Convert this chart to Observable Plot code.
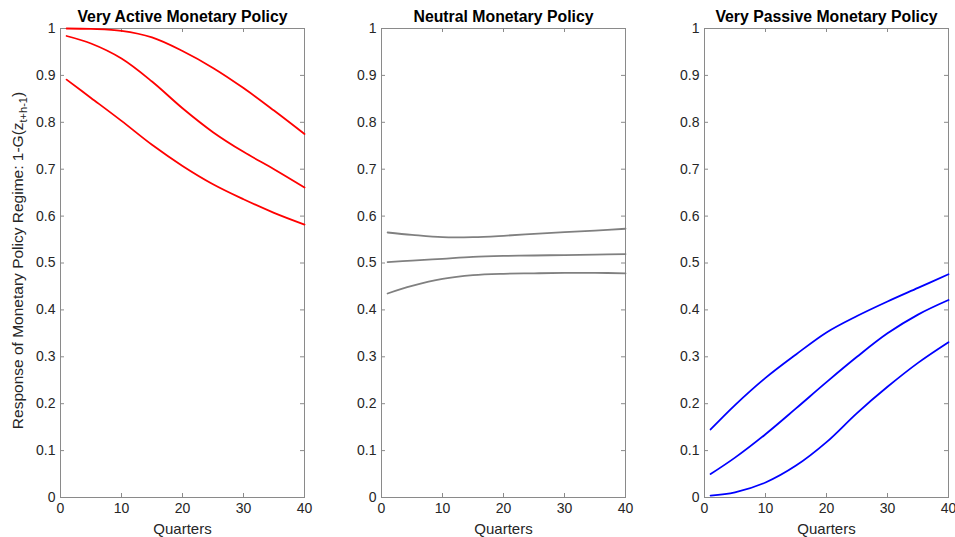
<!DOCTYPE html>
<html><head><meta charset="utf-8">
<script src="https://cdn.jsdelivr.net/npm/d3@7"></script>
<script src="https://cdn.jsdelivr.net/npm/@observablehq/plot@0.6"></script>
<style>
body{margin:0;background:#fff;}
#wrap{position:relative;width:955px;height:537px;overflow:hidden;background:#fff;}
#wrap svg{position:absolute;top:0;overflow:visible;}
</style></head><body><div id="wrap"></div>
<script>
// Horizon (quarters) at which values were read
const quarters = [1, 5, 10, 15, 20, 25, 30, 35, 40];

// Very active monetary policy (upper band, median, lower band)
const activeUpper = [1.000, 0.999, 0.995, 0.981, 0.952, 0.916, 0.873, 0.825, 0.775];
const activeMid   = [0.984, 0.968, 0.936, 0.887, 0.830, 0.779, 0.737, 0.700, 0.661];
const activeLower = [0.891, 0.852, 0.803, 0.752, 0.707, 0.668, 0.636, 0.607, 0.582];

// Neutral monetary policy
const neutralUpper = [0.565, 0.560, 0.555, 0.555, 0.558, 0.562, 0.566, 0.569, 0.573];
const neutralMid   = [0.502, 0.505, 0.509, 0.513, 0.515, 0.516, 0.517, 0.518, 0.519];
const neutralLower = [0.435, 0.451, 0.466, 0.474, 0.477, 0.478, 0.479, 0.479, 0.478];

// Very passive monetary policy
const passiveUpper = [0.145, 0.197, 0.255, 0.305, 0.352, 0.387, 0.418, 0.447, 0.476];
const passiveMid   = [0.050, 0.085, 0.135, 0.190, 0.246, 0.300, 0.350, 0.390, 0.421];
const passiveLower = [0.004, 0.011, 0.032, 0.068, 0.118, 0.180, 0.236, 0.287, 0.331];

const titles = ["Very Active Monetary Policy", "Neutral Monetary Policy", "Very Passive Monetary Policy"];
const colors = ["#ff0000", "#808080", "#0000ff"];
const xTicks = [0, 10, 20, 30, 40];
const yTicks = [0, 0.1, 0.2, 0.3, 0.4, 0.5, 0.6, 0.7, 0.8, 0.9, 1];
const xLabel = "Quarters";
const yLabelMain = "Response of Monetary Policy Regime: 1-G(z";
const yLabelSub = "t+h-1";
const yLabelEnd = ")";

const panelSeries = [
  [activeUpper, activeMid, activeLower],
  [neutralUpper, neutralMid, neutralLower],
  [passiveUpper, passiveMid, passiveLower]
];
const panelLeft = [0, 321, 644];
const panelWidth = [320, 320, 311];

const PW = 244, PH = 469, ML = 60, MT = 28, MB = 40;
const axisColor = "#8a8a8a";
const textColor = "#262626";
const font = "'Liberation Sans', Arial, Helvetica, sans-serif";

const wrap = document.getElementById("wrap");

panelSeries.forEach((series, p) => {
  const rows = series.flatMap((vals, i) => vals.map((v, j) => ({q: quarters[j], v, s: i})));
  const width = panelWidth[p];
  const svg = Plot.plot({
    width, height: 537,
    marginLeft: ML, marginRight: width - ML - PW, marginTop: MT, marginBottom: MB,
    style: {fontFamily: font, color: textColor, background: "transparent", overflow: "visible"},
    x: {domain: [0, 40], label: null},
    y: {domain: [0, 1], label: null},
    marks: [
      Plot.frame({stroke: axisColor}),
      Plot.tickX(xTicks, {x: d => d, stroke: axisColor, insetTop: PH - 4}),
      Plot.tickX(xTicks, {x: d => d, stroke: axisColor, insetBottom: PH - 4}),
      Plot.tickY(yTicks, {y: d => d, stroke: axisColor, insetRight: PW - 4}),
      Plot.tickY(yTicks, {y: d => d, stroke: axisColor, insetLeft: PW - 4}),
      Plot.axisX(xTicks, {tickSize: 0, tickPadding: 6, fontSize: 14, label: null, tickFormat: d => String(d)}),
      Plot.axisY(yTicks, {tickSize: 0, tickPadding: 5, fontSize: 14, label: null, tickFormat: d => String(d)}),
      Plot.line(rows, {x: "q", y: "v", z: "s", stroke: colors[p], strokeWidth: 1.8, curve: "catmull-rom"}),
      Plot.text([titles[p]], {frameAnchor: "top", lineAnchor: "middle", dy: -12, fontWeight: "bold", fontSize: 15.8, fill: "#000"}),
      Plot.text([xLabel], {frameAnchor: "bottom", lineAnchor: "middle", dy: 32, fontSize: 15, fill: textColor})
    ]
  });
  svg.style.left = panelLeft[p] + "px";
  if (p === 0) {
    const t = d3.select(svg).append("text")
      .attr("transform", `translate(18,${MT + PH / 2 - 2}) rotate(-90)`)
      .attr("text-anchor", "middle")
      .attr("dy", "0.35em")
      .attr("font-family", font)
      .attr("font-size", 15.5)
      .attr("fill", textColor);
    t.append("tspan").text(yLabelMain);
    t.append("tspan").attr("dy", 4).attr("font-size", 11).text(yLabelSub);
    t.append("tspan").attr("dy", -4).text(yLabelEnd);
  }
  wrap.appendChild(svg);
});
</script>
</body></html>
